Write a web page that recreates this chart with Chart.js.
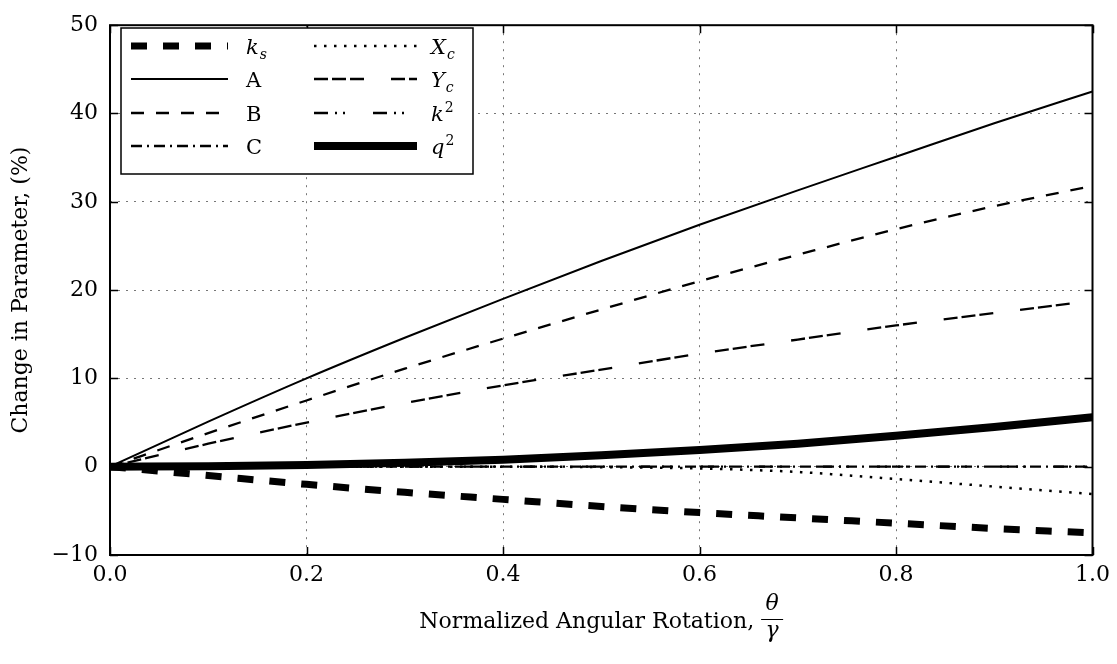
<!DOCTYPE html>
<html lang="en">
<head>
<meta charset="UTF-8">
<title>Change in Parameter</title>
<script src="https://cdn.jsdelivr.net/npm/chart.js"></script>
<style>
  body { margin: 0; background: white; }
  canvas { display: block; }
</style>
</head>
<body>
<canvas id="myChart" width="1117" height="664"></canvas>
<script>
const FONT = '"DejaVu Serif", "Liberation Serif", serif';

// normalized rotation theta/gamma
const xValues = [0.0, 0.1, 0.2, 0.3, 0.4, 0.5, 0.6, 0.7, 0.8, 0.9, 1.0];
// change in parameter (%)
const ksValues = [0, -1.0, -2.0, -2.9, -3.7, -4.5, -5.2, -5.8, -6.4, -7.0, -7.5];
const aValues  = [0, 5.1, 10.0, 14.6, 19.0, 23.3, 27.4, 31.3, 35.1, 38.9, 42.5];
const bValues  = [0, 3.8, 7.5, 11.1, 14.5, 17.8, 21.0, 24.0, 26.9, 29.5, 31.8];
const cValues  = [0, 0, 0, 0, 0, 0, 0, 0, 0, 0, 0];
const xcValues = [0, 0, 0, 0, 0, -0.05, -0.2, -0.6, -1.4, -2.25, -3.1];
const ycValues = [0, 2.6, 5.0, 7.2, 9.2, 11.0, 12.8, 14.4, 16.0, 17.4, 18.8];
const k2Values = [0, 0, 0, 0, 0, 0, 0, 0, 0, 0, 0];
const q2Values = [0, 0.05, 0.2, 0.45, 0.8, 1.3, 1.9, 2.6, 3.5, 4.5, 5.6];

const yTicks = [-10, 0, 10, 20, 30, 40, 50];
const xTicks = [0.0, 0.2, 0.4, 0.6, 0.8, 1.0];

// label: [base, script, 'sub'|'sup'|null, italic]
const series = [
    {label: ['k', 's', 'sub', true], values: ksValues, width: 7, dash: [16, 16]},
    {label: ['A', '', null, false], values: aValues, width: 2, dash: []},
    {label: ['B', '', null, false], values: bValues, width: 2.3, dash: [13, 12]},
    {label: ['C', '', null, false], values: cValues, width: 2.3, dash: [11, 5, 2, 5]},
    {label: ['X', 'c', 'sub', true], values: xcValues, width: 2.5, dash: [2.5, 7.5]},
    {label: ['Y', 'c', 'sub', true], values: ycValues, width: 2.3, dash: [14, 4, 14, 4, 14, 27]},
    {label: ['k', '2', 'sup', true], values: k2Values, width: 2.3, dash: [14, 7, 2, 6, 2, 28]},
    {label: ['q', '2', 'sup', true], values: q2Values, width: 8, dash: []},
];

function drawMathLabel(ctx, lab, x, y) {
    const [base, script, kind, italic] = lab;
    ctx.font = (italic ? 'italic ' : '') + '21px ' + FONT;
    ctx.textBaseline = 'alphabetic';
    ctx.textAlign = 'left';
    ctx.fillText(base, x, y);
    if (kind) {
        const w = ctx.measureText(base).width;
        ctx.font = (kind === 'sub' ? 'italic ' : '') + '14px ' + FONT;
        ctx.fillText(script, x + w + 1, kind === 'sub' ? y + 5 : y - 9);
    }
}

const framePlugin = {
    id: 'frame',
    afterDatasetsDraw(chart) {
        const {ctx, chartArea: a, scales} = chart;
        ctx.save();
        ctx.strokeStyle = '#000';
        // inward ticks
        ctx.lineWidth = 1.5;
        ctx.beginPath();
        xTicks.forEach(v => {
            const px = Math.round(scales.x.getPixelForValue(v)) + 0.5;
            ctx.moveTo(px, a.bottom); ctx.lineTo(px, a.bottom - 8);
            ctx.moveTo(px, a.top); ctx.lineTo(px, a.top + 8);
        });
        yTicks.forEach(v => {
            const py = Math.round(scales.y.getPixelForValue(v)) + 0.5;
            ctx.moveTo(a.left, py); ctx.lineTo(a.left + 8, py);
            ctx.moveTo(a.right, py); ctx.lineTo(a.right - 8, py);
        });
        ctx.stroke();
        // frame
        ctx.lineWidth = 2;
        ctx.strokeRect(a.left, a.top, a.right - a.left, a.bottom - a.top);

        // legend
        const lx = 121, ly = 28, lw = 352, lh = 146;
        ctx.fillStyle = '#fff';
        ctx.fillRect(lx, ly, lw, lh);
        ctx.lineWidth = 1.5;
        ctx.strokeRect(lx, ly, lw, lh);
        const rows = [46, 79, 113, 146];
        const cols = [{x1: 131, x2: 228, tx: 246}, {x1: 314, x2: 417, tx: 431}];
        series.forEach((s, i) => {
            const col = cols[Math.floor(i / 4)];
            const ry = rows[i % 4];
            ctx.save();
            ctx.lineWidth = s.width;
            ctx.setLineDash(s.dash);
            ctx.lineCap = 'butt';
            ctx.beginPath();
            ctx.moveTo(col.x1, ry);
            ctx.lineTo(col.x2, ry);
            ctx.stroke();
            ctx.restore();
            ctx.fillStyle = '#000';
            drawMathLabel(ctx, s.label, col.tx, ry + 8);
        });

        // x axis title with fraction
        const text = 'Normalized Angular Rotation, ';
        ctx.font = '22px ' + FONT;
        const tw = ctx.measureText(text).width;
        const fw = 22;
        const cx = (a.left + a.right) / 2;
        const x0 = cx - (tw + fw) / 2;
        ctx.fillStyle = '#000';
        ctx.textAlign = 'left';
        ctx.textBaseline = 'alphabetic';
        ctx.fillText(text, x0, 628);
        const fx = x0 + tw + fw / 2;
        ctx.font = 'italic 22px ' + FONT;
        ctx.textAlign = 'center';
        ctx.fillText('\u03b8', fx, 610);
        ctx.fillText('\u03b3', fx, 637);
        ctx.lineWidth = 1;
        ctx.beginPath();
        ctx.moveTo(fx - fw / 2, 619.5);
        ctx.lineTo(fx + fw / 2, 619.5);
        ctx.stroke();
        ctx.restore();
    }
};

const ctx = document.getElementById('myChart');
new Chart(ctx, {
    type: 'line',
    data: {
        datasets: series.map(s => ({
            label: s.label.join(''),
            data: xValues.map((x, i) => ({x: x, y: s.values[i]})),
            borderColor: '#000',
            borderWidth: s.width,
            borderDash: s.dash,
            borderCapStyle: 'butt',
            pointRadius: 0,
            fill: false,
            cubicInterpolationMode: 'monotone',
        }))
    },
    options: {
        responsive: false,
        animation: false,
        devicePixelRatio: 1,
        layout: {padding: {top: 15, right: 22, left: 0, bottom: 0}},
        plugins: {
            legend: {display: false},
            tooltip: {enabled: false},
        },
        scales: {
            x: {
                type: 'linear',
                min: 0,
                max: 1,
                afterFit: scale => { scale.height = 109; },
                afterBuildTicks: scale => { scale.ticks = xTicks.map(v => ({value: v})); },
                ticks: {
                    color: '#000',
                    font: {family: FONT, size: 22},
                    padding: 7,
                    maxRotation: 0,
                    callback: v => v.toFixed(1),
                },
                grid: {
                    color: '#777',
                    lineWidth: 1,
                    drawTicks: false,
                },
                border: {display: false, dash: [2, 6]},
            },
            y: {
                min: -10,
                max: 50,
                afterFit: scale => { scale.width = 110; },
                afterBuildTicks: scale => { scale.ticks = yTicks.map(v => ({value: v})); },
                ticks: {
                    color: '#000',
                    font: {family: FONT, size: 22},
                    padding: 12,
                    callback: v => (v < 0 ? '\u2212' + Math.abs(v) : String(v)),
                },
                grid: {
                    color: '#777',
                    lineWidth: 1,
                    drawTicks: false,
                },
                border: {display: false, dash: [2, 6]},
                title: {
                    display: true,
                    text: 'Change in Parameter, (%)',
                    color: '#000',
                    font: {family: FONT, size: 22},
                    padding: {top: 8, bottom: 0},
                },
            },
        },
    },
    plugins: [framePlugin],
});
</script>
</body>
</html>
